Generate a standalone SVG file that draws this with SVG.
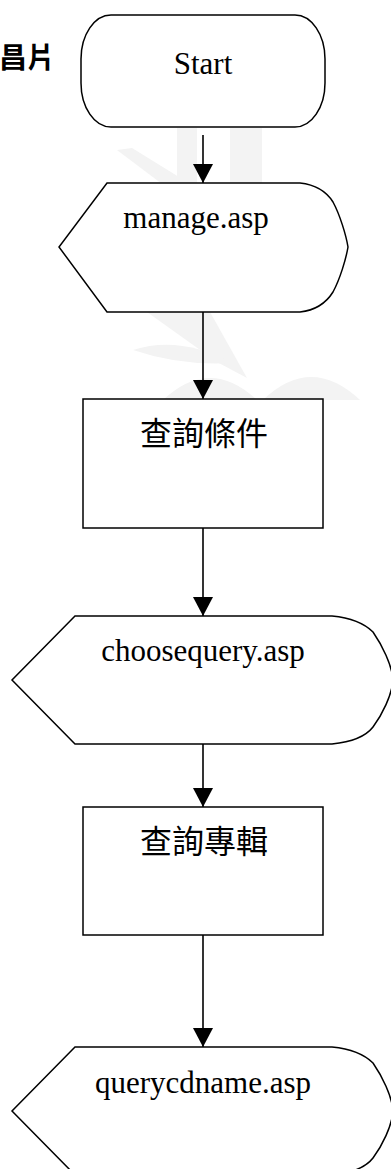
<svg xmlns="http://www.w3.org/2000/svg" width="391" height="1169" viewBox="0 0 391 1169">
<style>
.shape{fill:#fff;stroke:#000;stroke-width:1.5}
.lbl{font-family:"Liberation Serif","Times New Roman",serif;font-size:31px;fill:#000;text-anchor:middle}
.cjk{font-family:"Noto Sans CJK TC","Noto Sans CJK SC",sans-serif;font-size:32px;font-weight:400;fill:#000;text-anchor:middle}
.wm{fill:#f3f3f3}
.conn{stroke:#000;stroke-width:1.6;fill:none}
</style>
<defs>
<marker id="arr" markerWidth="20" markerHeight="20" refX="19" refY="10" orient="auto" markerUnits="userSpaceOnUse" viewBox="0 0 20 20">
<path d="M0,0 L19,10 L0,20 Z" fill="#000"/>
</marker>
</defs>
<rect width="391" height="1169" fill="#fff"/>
<g id="watermark">
<rect class="wm" x="177" y="128" width="20" height="56"/>
<rect class="wm" x="230" y="128" width="32" height="60"/>
<polygon class="wm" points="117,150 132,148 200,190 170,190"/>
<polygon class="wm" points="147,312 210,312 247,378 217,362"/>
<path class="wm" d="M133,350 Q180,335 232,363 Q180,366 133,350 Z"/>
<path class="wm" d="M163,400 Q210,356 257,400 Z"/>
<path class="wm" d="M263,400 Q311,354 360,400 Z"/>
</g>
<g id="title">
<text x="-1" y="68" font-family="'Noto Sans CJK TC','Noto Sans CJK SC',sans-serif" font-size="28" font-weight="bold">昌片</text>
</g>
<g id="connectors">
<line class="conn" x1="203" y1="135" x2="203" y2="183" marker-end="url(#arr)"/>
<line class="conn" x1="203" y1="303" x2="203" y2="399" marker-end="url(#arr)"/>
<line class="conn" x1="203" y1="519" x2="203" y2="616" marker-end="url(#arr)"/>
<line class="conn" x1="203" y1="735" x2="203" y2="807" marker-end="url(#arr)"/>
<line class="conn" x1="203" y1="927" x2="203" y2="1047" marker-end="url(#arr)"/>
</g>
<g id="start">
<rect class="shape" x="81" y="15" width="244" height="112" rx="30" ry="44"/>
<text class="lbl" x="203" y="74">Start</text>
</g>
<g id="manage">
<path class="shape" d="M107,183 L300,183 C318,185 328,194 333,202 C340,215 346,235 348,247 C346,259 340,279 333,292 C328,300 318,310 300,312 L107,312 L59,247 Z"/>
<text class="lbl" x="196" y="228">manage.asp</text>
</g>
<g id="cond">
<rect class="shape" x="83" y="399" width="240" height="129"/>
<text class="cjk" x="204" y="445">查詢條件</text>
</g>
<g id="choosequery">
<path class="shape" d="M75,616 L332,616 C352,618 366,625 373,632 C382,645 392,665 393,680 C392,695 382,715 373,727 C366,736 352,742 332,744 L75,744 L12,680 Z"/>
<text class="lbl" x="203" y="661">choosequery.asp</text>
</g>
<g id="album">
<rect class="shape" x="83" y="807" width="240" height="128"/>
<text class="cjk" x="204" y="853">查詢專輯</text>
</g>
<g id="querycdname">
<path class="shape" d="M75,1047 L332,1047 C352,1049 366,1056 373,1063 C382,1076 392,1096 393,1111 C392,1126 382,1146 373,1158 C366,1167 352,1173 332,1175 L75,1175 L12,1111 Z"/>
<text class="lbl" x="203" y="1093">querycdname.asp</text>
</g>
</svg>
